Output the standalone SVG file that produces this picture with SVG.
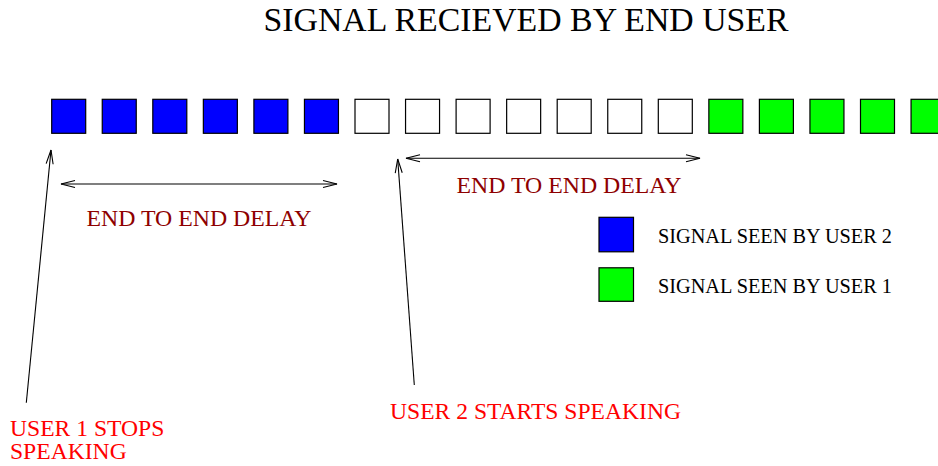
<svg xmlns="http://www.w3.org/2000/svg" width="938" height="466" viewBox="0 0 938 466">
  <style>
    text { font-family: "Liberation Serif", "Times New Roman", serif; }
    .title { font-size: 33.8px; fill: #000; text-anchor: middle; }
    .delay { font-size: 23.8px; fill: #8e0000; }
    .event { font-size: 23.6px; fill: #ff0000; }
    .legend { font-size: 20.3px; fill: #000; }
    .cell { stroke: #000; stroke-width: 1.2; }
    .blue { fill: #0000ff; }
    .empty { fill: #ffffff; }
    .green { fill: #00ff00; }
    .conn { stroke: #000; stroke-width: 1.1; fill: none; }
  </style>
  <defs>
    <marker id="head" viewBox="-16 -5 18 10" refX="0" refY="0" markerWidth="18" markerHeight="10" markerUnits="userSpaceOnUse" orient="auto-start-reverse">
      <path d="M-14,-3.5 L0,0 L-14,3.5" fill="none" stroke="#000" stroke-width="1.1"/>
    </marker>
  </defs>

  <rect width="938" height="466" fill="#ffffff"/>

  <g id="title">
    <text class="title" x="526" y="30.7">SIGNAL RECIEVED BY END USER</text>
  </g>

  <!-- signal cells, pitch 50.55 px -->
  <g id="signal-row">
    <rect class="cell blue" x="51.7" y="99.3" width="34" height="34"/>
    <rect class="cell blue" x="102.25" y="99.3" width="34" height="34"/>
    <rect class="cell blue" x="152.8" y="99.3" width="34" height="34"/>
    <rect class="cell blue" x="203.35" y="99.3" width="34" height="34"/>
    <rect class="cell blue" x="253.9" y="99.3" width="34" height="34"/>
    <rect class="cell blue" x="304.45" y="99.3" width="34" height="34"/>
    <rect class="cell empty" x="355" y="99.3" width="34" height="34"/>
    <rect class="cell empty" x="405.55" y="99.3" width="34" height="34"/>
    <rect class="cell empty" x="456.1" y="99.3" width="34" height="34"/>
    <rect class="cell empty" x="506.65" y="99.3" width="34" height="34"/>
    <rect class="cell empty" x="557.2" y="99.3" width="34" height="34"/>
    <rect class="cell empty" x="607.75" y="99.3" width="34" height="34"/>
    <rect class="cell empty" x="658.3" y="99.3" width="34" height="34"/>
    <rect class="cell green" x="708.85" y="99.3" width="34" height="34"/>
    <rect class="cell green" x="759.4" y="99.3" width="34" height="34"/>
    <rect class="cell green" x="809.95" y="99.3" width="34" height="34"/>
    <rect class="cell green" x="860.5" y="99.3" width="34" height="34"/>
    <rect class="cell green" x="911.05" y="99.3" width="34" height="34"/>
  </g>

  <g id="connectors">
    <line class="conn" x1="61" y1="184" x2="337" y2="184" marker-start="url(#head)" marker-end="url(#head)"/>
    <line class="conn" x1="406" y1="158.3" x2="700" y2="158.3" marker-start="url(#head)" marker-end="url(#head)"/>
    <line class="conn" x1="26.3" y1="402.7" x2="51" y2="150" marker-end="url(#head)"/>
    <line class="conn" x1="414.3" y1="385" x2="397.7" y2="159" marker-end="url(#head)"/>
  </g>

  <g id="delay-1">
    <text class="delay" x="86.5" y="226">END TO END DELAY</text>
  </g>
  <g id="delay-2">
    <text class="delay" x="456.5" y="193">END TO END DELAY</text>
  </g>

  <g id="legend-user2">
    <rect class="cell blue" x="599" y="217.3" width="34.5" height="34.5"/>
    <text class="legend" x="658" y="243.3">SIGNAL SEEN BY USER 2</text>
  </g>
  <g id="legend-user1">
    <rect class="cell green" x="599" y="267.8" width="34.5" height="33.5"/>
    <text class="legend" x="658" y="292.7">SIGNAL SEEN BY USER 1</text>
  </g>

  <g id="user1-stops">
    <text class="event" x="10" y="435.7">USER 1 STOPS</text>
    <text class="event" x="10" y="459.3">SPEAKING</text>
  </g>
  <g id="user2-starts">
    <text class="event" x="390" y="419">USER 2 STARTS SPEAKING</text>
  </g>
</svg>
